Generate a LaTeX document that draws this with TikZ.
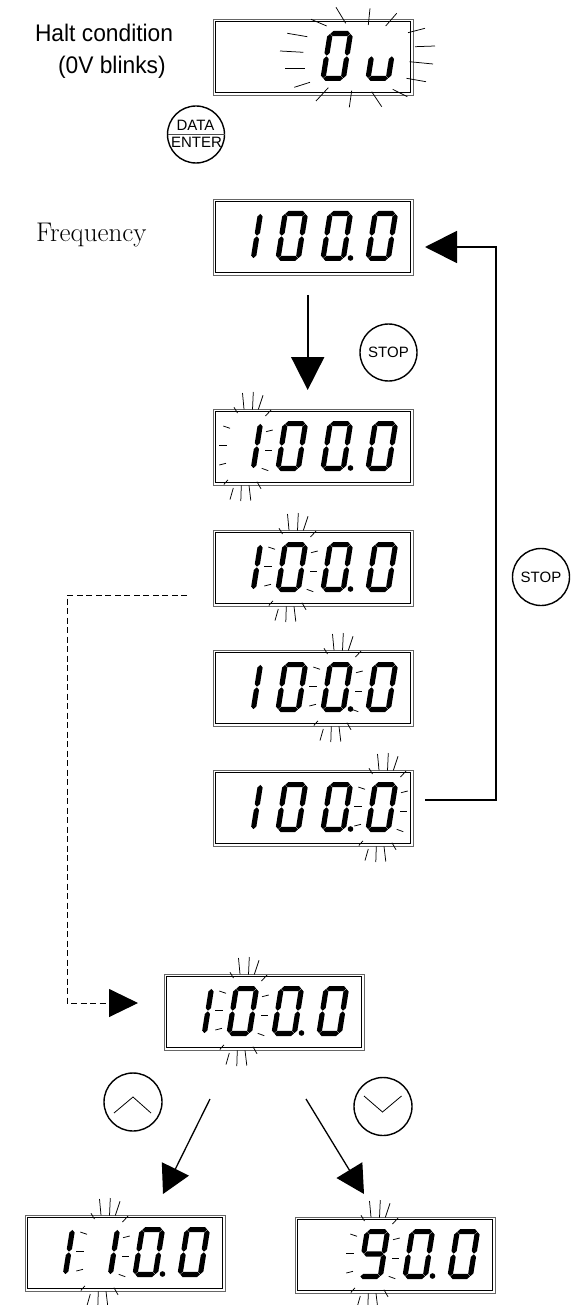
\documentclass[tikz,border=0pt]{standalone}
\usepackage{fontspec}
\newfontfamily\arialfont{Liberation Sans}
\newfontfamily\narrowfont[FakeStretch=0.95]{Liberation Sans}
\usetikzlibrary{arrows.meta}

\newcommand{\HT}{2.6}
\newcommand{\SG}{0.3}
\newcommand{\hseg}[3]{\fill ({#1+\SG},#3) -- ({#1+\SG+\HT},{#3+\HT}) -- ({#2-\SG-\HT},{#3+\HT}) -- ({#2-\SG},#3) -- ({#2-\SG-\HT},{#3-\HT}) -- ({#1+\SG+\HT},{#3-\HT}) -- cycle;}
\newcommand{\vseg}[3]{\fill (#1,{#2+\SG}) -- ({#1+\HT},{#2+\SG+\HT}) -- ({#1+\HT},{#3-\SG-\HT}) -- (#1,{#3-\SG}) -- ({#1-\HT},{#3-\SG-\HT}) -- ({#1-\HT},{#2+\SG+\HT}) -- cycle;}
\newcommand{\dgA}{\hseg{2.6}{22.9}{47.4}}
\newcommand{\dgB}{\vseg{22.9}{25}{47.4}}
\newcommand{\dgC}{\vseg{22.9}{2.6}{25}}
\newcommand{\dgD}{\hseg{2.6}{22.9}{2.6}}
\newcommand{\dgE}{\vseg{2.6}{2.6}{25}}
\newcommand{\dgF}{\vseg{2.6}{25}{47.4}}
\newcommand{\dgG}{\hseg{2.6}{22.9}{25}}
\newcommand{\dZero}{\dgA\dgB\dgC\dgD\dgE\dgF}
\newcommand{\dOne}{\dgB\dgC}
\newcommand{\dNine}{\dgA\dgB\dgC\dgD\dgF\dgG}
\newcommand{\dU}{\dgC\dgD\dgE}
% #1 cell x, #2 box top, #3 digit
\newcommand{\dig}[3]{\begin{scope}[shift={(#1,{-(#2)-62})},xslant=0.16]#3\end{scope}}
\newcommand{\dpoint}[2]{\fill ({#1+30.5},{-(#2)-59}) circle (2.8);}
\newcommand{\dispbox}[3]{\node[dispout] (#1) at (#2,#3) {};
  \draw[dispin] ([shift={(2.7pt,2.7pt)}]#1.south west) rectangle ([shift={(-2.7pt,-2.7pt)}]#1.north east);}
\newcommand{\blink}[2]{\begin{scope}[shift={(#1,{-(#2)})}]
  \draw[ray] (4,1.7) -- (7.5,-4);
  \draw[ray] (12.5,16) -- (14,-0.3);
  \draw[ray] (23.3,17) -- (22.5,-0.5);
  \draw[ray] (33,13.7) -- (28.3,-0.5);
  \draw[ray] (41,-1) -- (35.5,-7);
  \draw[ray] (-6.7,-17) -- (0,-19.3);
  \draw[ray] (-10.7,-36.7) -- (-3.3,-36.7);
  \draw[ray] (-10.7,-56) -- (-4,-54.3);
  \draw[ray] (36,-22.7) -- (42.7,-21);
  \draw[ray] (35,-41) -- (41.7,-41);
  \draw[ray] (31.7,-59.3) -- (38.3,-61.7);
  \draw[ray] (-6.2,-75.5) -- (-2,-70.8);
  \draw[ray] (3.3,-79) -- (0,-90.5);
  \draw[ray] (11.3,-76.3) -- (10.8,-92);
  \draw[ray] (19,-76.3) -- (20.8,-91.5);
  \draw[ray] (27,-72.7) -- (31,-79.8);
\end{scope}}

\begin{document}
\begin{tikzpicture}[x=1pt,y=1pt,
  every node/.style={inner sep=0pt,outer sep=0pt},
  dispout/.style={draw=black!60,line width=0.9pt,minimum width=200pt,minimum height=76pt},
  dispin/.style={draw=black,line width=0.8pt},
  ray/.style={line width=0.75pt},
  btn/.style={circle,draw,line width=1.4pt,minimum size=57pt},
  arrowbtn/.style={circle,draw,line width=1.4pt,minimum size=58pt},
  chev/.style={line width=0.8pt},
  conn/.style={line width=1.8pt,-{Triangle[length=33pt,width=33pt]}},
  diag/.style={line width=1.3pt,-{Triangle[length=28pt,width=30pt]}},
  dashconn/.style={line width=1pt,dash pattern=on 6pt off 3.5pt,-{Triangle[length=29pt,width=28pt]}},
  lbl/.style={font=\fontsize{24}{28}\selectfont\narrowfont,anchor=base west},
  btxt/.style={font=\fontsize{15}{16}\selectfont\arialfont}
  ]
\useasboundingbox (0,0) rectangle (573,-1305);
\fill[white] (0,0) rectangle (573,-1305);

% ---- labels
\node[lbl] (halt1) at (35,-42) {Halt condition};
\node[lbl] (halt2) at (58,-74) {(0V blinks)};
\node[font=\fontsize{27}{30}\selectfont,anchor=base west] (freq) at (36,-242) {Frequency};

% ---- halt display
\dispbox{d1}{313}{-57}
\dig{320}{19}{\dZero}
\dig{365}{19}{\dU}
\foreach \a/\b/\c/\d in {311/19.3/326.7/26, 336/7.3/345.7/23.3, 370/8.3/368.3/25, 396.7/13.3/385.7/26,
  408/32.7/425/28.3, 415/46.7/435/46, 409.5/61.7/433/64, 406.5/78.3/426/81.7,
  392.7/89.3/407.3/96.7, 371.7/91.7/381.7/106.7, 351.7/90.7/349.3/107.3, 328.3/87.7/316/101,
  294.3/87.3/310/82.3, 285/68.3/305/68.3, 280/51/303.3/52.3, 287.3/33.3/307.3/36.7}
  {\draw[ray] (\a,-\b) -- (\c,-\d);}

% ---- DATA/ENTER button
\node[btn] (de) at (196,-134.5) {};
\draw[black!70,line width=0.8pt] (de.west) -- (de.east);
\node[btxt,anchor=base] (data) at (195.5,-131) {DATA};
\node[btxt,anchor=base] (enter) at (196.5,-148) {ENTER};

% ---- frequency display
\dispbox{d2}{313}{-237}
\dig{230}{199}{\dOne}\dig{275}{199}{\dZero}\dig{320}{199}{\dZero}\dpoint{320}{199}\dig{365}{199}{\dZero}

% ---- display 3
\dispbox{d3}{313}{-447}
\dig{230}{409}{\dOne}\dig{275}{409}{\dZero}\dig{320}{409}{\dZero}\dpoint{320}{409}\dig{365}{409}{\dZero}
\blink{230}{409}

% ---- display 4
\dispbox{d4}{313}{-568}
\dig{230}{530}{\dOne}\dig{275}{530}{\dZero}\dig{320}{530}{\dZero}\dpoint{320}{530}\dig{365}{530}{\dZero}
\blink{275}{530}

% ---- display 5
\dispbox{d5}{313}{-688}
\dig{230}{650}{\dOne}\dig{275}{650}{\dZero}\dig{320}{650}{\dZero}\dpoint{320}{650}\dig{365}{650}{\dZero}
\blink{320}{650}

% ---- display 6
\dispbox{d6}{313}{-808}
\dig{230}{770}{\dOne}\dig{275}{770}{\dZero}\dig{320}{770}{\dZero}\dpoint{320}{770}\dig{365}{770}{\dZero}
\blink{365}{770}

% ---- display 7
\dispbox{d7}{264}{-1012}
\dig{181}{974}{\dOne}\dig{226}{974}{\dZero}\dig{271}{974}{\dZero}\dpoint{271}{974}\dig{316}{974}{\dZero}
\blink{226}{974}

% ---- bottom left
\dispbox{d8}{125}{-1253}
\dig{42}{1215}{\dOne}\dig{87}{1215}{\dOne}\dig{132}{1215}{\dZero}\dpoint{132}{1215}\dig{177}{1215}{\dZero}
\blink{87}{1215}

% ---- bottom right
\dispbox{d9}{395}{-1255}
\dig{357}{1217}{\dNine}\dig{402}{1217}{\dZero}\dpoint{402}{1217}\dig{447}{1217}{\dZero}
\blink{357}{1217}

% ---- buttons
\node[btn,font=\fontsize{15}{16}\selectfont\arialfont] (stop1) at (388.5,-352.5) {STOP};
\node[btn,font=\fontsize{15}{16}\selectfont\arialfont] (stop2) at (541,-577) {STOP};
\node[arrowbtn] (up) at (133,-1102) {};
\draw[chev] ([shift={(-19pt,-11pt)}]up.center) -- ([shift={(0pt,5pt)}]up.center) -- ([shift={(18pt,-11pt)}]up.center);
\node[arrowbtn] (down) at (383,-1106.5) {};
\draw[chev] ([shift={(-19pt,10.5pt)}]down.center) -- ([shift={(-0.5pt,-5.5pt)}]down.center) -- ([shift={(18.5pt,10.5pt)}]down.center);

% ---- connectors
\draw[conn,shorten <=20pt,shorten >=19pt] ([xshift=-5.3pt]d2.south) -- ([xshift=-5.3pt]d3.north);
\coordinate (rt) at (496,-247);
\draw[conn,-{Triangle[length=32pt,width=32pt]}] ([xshift=12pt,yshift=8pt]d6.east) -| (rt) -- ([xshift=12pt,yshift=-10pt]d2.east);
\coordinate (dl) at (67,-595);
\draw[dashconn] ([xshift=-26pt,yshift=-27pt]d4.west) -- (dl) |- ([xshift=-26pt,yshift=9pt]d7.west);
\coordinate (ls) at (210,-1099);
\coordinate (le) at (163,-1194);
\coordinate (rs) at (306,-1099);
\coordinate (re) at (364,-1194);
\draw[diag] (ls) -- (le);
\draw[diag] (rs) -- (re);
\end{tikzpicture}
\end{document}
